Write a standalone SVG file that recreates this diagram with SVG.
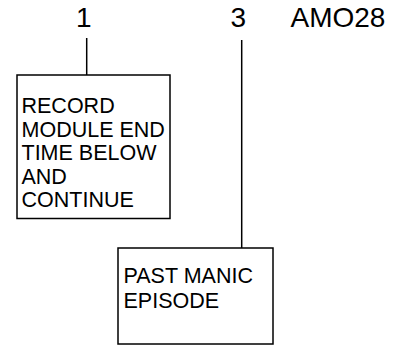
<svg xmlns="http://www.w3.org/2000/svg" width="402" height="347" viewBox="0 0 402 347">
<style>
.box{fill:#fff;stroke:#000;stroke-width:1.5}
.conn{stroke:#000;stroke-width:1.5;fill:none}
.hd{font-family:"Liberation Sans",Arial,sans-serif;font-size:28px;fill:#000}
.tx{font-family:"Liberation Sans",Arial,sans-serif;font-size:21.5px;fill:#000}
</style>
<rect width="402" height="347" fill="#fff"/>
<g id="headers">
<text class="hd" x="76" y="27">1</text>
<text class="hd" x="230.5" y="27">3</text>
<text class="hd" x="290.5" y="27">AMO28</text>
</g>
<g id="connectors">
<line class="conn" x1="86.7" y1="38" x2="86.7" y2="75"/>
<line class="conn" x1="241.7" y1="40" x2="241.7" y2="248"/>
</g>
<g id="node1">
<rect class="box" x="17" y="75" width="153" height="143.5"/>
<text class="tx" x="21.5" y="113">RECORD</text>
<text class="tx" x="21.5" y="137">MODULE END</text>
<text class="tx" x="21.5" y="160">TIME BELOW</text>
<text class="tx" x="21.5" y="183.5">AND</text>
<text class="tx" x="21.5" y="207">CONTINUE</text>
</g>
<g id="node2">
<rect class="box" x="118" y="248" width="155" height="96"/>
<text class="tx" x="123.5" y="283">PAST MANIC</text>
<text class="tx" x="123.5" y="308">EPISODE</text>
</g>
</svg>
